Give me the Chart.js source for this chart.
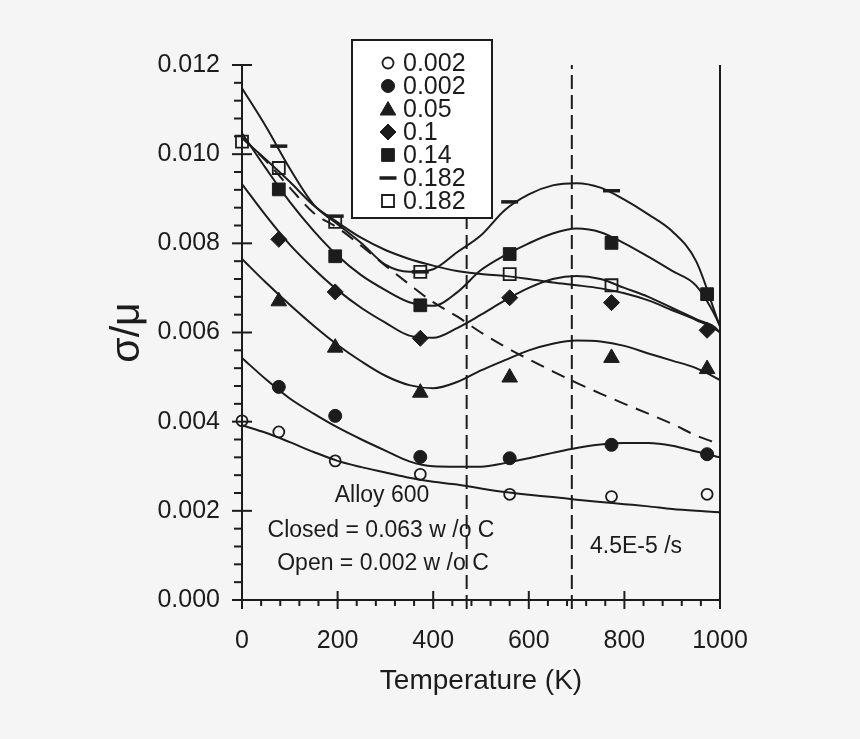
<!DOCTYPE html>
<html>
<head>
<meta charset="utf-8">
<script src="https://cdn.jsdelivr.net/npm/chart.js@4.4.0/dist/chart.umd.min.js"></script>
<style>
  html, body { margin: 0; padding: 0; background: #f5f5f5; }
  canvas { display: block; }
</style>
</head>
<body>
<canvas id="c" width="860" height="739"></canvas>
<script>
// ---------------- data ----------------
const temps = [0, 77, 195, 373, 560, 773, 973];

const openCircle002  = [0.00402, 0.00377, 0.00312, 0.00282, 0.00237, 0.00232, 0.00237];
const filledCircle002 = [null, 0.00478, 0.00413, 0.00321, 0.00318, 0.00348, 0.00327];
const triangle005    = [null, 0.00670, 0.00566, 0.00465, 0.00499, 0.00543, 0.00518];
const diamond01      = [null, 0.00809, 0.00691, 0.00587, 0.00678, 0.00667, 0.00605];
const square014      = [null, 0.00921, 0.00771, 0.00661, 0.00776, 0.00801, 0.00686];
const dash0182       = [null, 0.01018, 0.00861, 0.00736, 0.00893, 0.00918, null];
const openSquare0182 = [0.01028, 0.00969, 0.00848, 0.00736, 0.00731, 0.00706, null];

const legendLabels = ['0.002', '0.002', '0.05', '0.1', '0.14', '0.182', '0.182'];

// fitted curves, sampled along temperature
const curveT = [0, 50, 100, 150, 200, 250, 300, 350, 400, 450, 500, 550, 600, 650, 700, 750, 800, 850, 900, 950, 1000, 1020];
const fitOpen002    = [0.00392, 0.00375, 0.00354, 0.00332, 0.00312, 0.00298, 0.00286, 0.00274, 0.00265, 0.00259, 0.00250, 0.00242, 0.00236, 0.00231, 0.00225, 0.00220, 0.00215, 0.00210, 0.00204, 0.00200, 0.00197, 0.00195];
const fitFilled002  = [0.00543, 0.00495, 0.00452, 0.00418, 0.00387, 0.00360, 0.00335, 0.00311, 0.00300, 0.00299, 0.00299, 0.00307, 0.00318, 0.00330, 0.00341, 0.00349, 0.00352, 0.00352, 0.00346, 0.00333, 0.00320, 0.00314];
const fitTri005     = [0.00765, 0.00712, 0.00662, 0.00615, 0.00572, 0.00535, 0.00503, 0.00482, 0.00475, 0.00489, 0.00515, 0.00538, 0.00560, 0.00575, 0.00582, 0.00580, 0.00570, 0.00553, 0.00537, 0.00520, 0.00493, 0.00478];
const fitDiamond01  = [0.00933, 0.00862, 0.00797, 0.00743, 0.00695, 0.00655, 0.00622, 0.00593, 0.00588, 0.00610, 0.00640, 0.00672, 0.00700, 0.00720, 0.00727, 0.00720, 0.00700, 0.00680, 0.00655, 0.00630, 0.00600, 0.00556];
const fitSquare014  = [0.01047, 0.00968, 0.00893, 0.00828, 0.00772, 0.00728, 0.00695, 0.00668, 0.00660, 0.00690, 0.00740, 0.00773, 0.00800, 0.00822, 0.00833, 0.00825, 0.00800, 0.00770, 0.00738, 0.00705, 0.00615, 0.00560];
const fitDash0182   = [0.01148, 0.01062, 0.00968, 0.00887, 0.00843, 0.00800, 0.00752, 0.00736, 0.00742, 0.00780, 0.00818, 0.00875, 0.00910, 0.00930, 0.00935, 0.00925, 0.00898, 0.00865, 0.00827, 0.00760, 0.00613, 0.00561];
const fitOpenSq0182 = [0.01036, 0.00988, 0.00938, 0.00885, 0.00847, 0.00812, 0.00785, 0.00765, 0.00750, 0.00738, 0.00731, 0.00727, 0.00720, 0.00712, 0.00706, 0.00699, 0.00688, 0.00672, 0.00650, 0.00628, 0.00600, 0.00576];
const fitDashed     = [0.01038, 0.00985, 0.00925, 0.00868, 0.00835, 0.00794, 0.00750, 0.00708, 0.00668, 0.00636, 0.00600, 0.00568, 0.00540, 0.00513, 0.00487, 0.00463, 0.00440, 0.00418, 0.00395, 0.00369, 0.00348, 0.00336];

const rateLineT = [470, 690];      // vertical dashed lines (K)
const xTickValues = [0, 200, 400, 600, 800, 1000];
const yTickValues = [0, 0.002, 0.004, 0.006, 0.008, 0.010, 0.012];

// ---------------- styling ----------------
const INK = '#1c1c1c';
const FONT = '"Liberation Sans", Arial, Helvetica, sans-serif';

const pts = arr => temps.map((t, i) => ({ x: t, y: arr[i] })).filter(p => p.y !== null);
const crv = arr => curveT.map((t, i) => ({ x: t, y: arr[i] }));

const markerSpecs = [
  { data: openCircle002,  style: 'circle',  r: 5.5, fill: 'rgba(0,0,0,0)', bw: 1.8 },
  { data: filledCircle002, style: 'circle', r: 6.5, fill: INK, bw: 1 },
  { data: triangle005,    style: 'triangle', r: 9, fill: INK, bw: 1 },
  { data: diamond01,      style: 'rectRot', r: 8, fill: INK, bw: 1 },
  { data: square014,      style: 'rect',    r: 9, fill: INK, bw: 1 },
  { data: dash0182,       style: 'line',    r: 8.5, fill: INK, bw: 3.5 },
  { data: openSquare0182, style: 'rect',    r: 8.5, fill: 'rgba(0,0,0,0)', bw: 1.8 }
];

const datasets = [];
markerSpecs.forEach((m, i) => {
  datasets.push({
    type: 'scatter', label: legendLabels[i], data: pts(m.data), showLine: false,
    pointStyle: m.style, pointRadius: m.r, pointBackgroundColor: m.fill,
    pointBorderColor: INK, pointBorderWidth: m.bw, clip: false
  });
});

[fitOpen002, fitFilled002, fitTri005, fitDiamond01, fitSquare014, fitDash0182, fitOpenSq0182].forEach(c => {
  datasets.push({
    type: 'line', label: '', data: crv(c), borderColor: INK, borderWidth: 2,
    pointRadius: 0, cubicInterpolationMode: 'monotone', clip: false, fill: false
  });
});
datasets.push({
  type: 'line', label: '', data: crv(fitDashed), borderColor: INK, borderWidth: 2,
  borderDash: [14, 9], pointRadius: 0, cubicInterpolationMode: 'monotone', clip: false, fill: false
});
rateLineT.forEach(t => {
  datasets.push({
    type: 'line', label: '', data: [{ x: t, y: -0.0002 }, { x: t, y: 0.012 }],
    borderColor: INK, borderWidth: 2, borderDash: [14, 6], pointRadius: 0, clip: false
  });
});
datasets.push({
  type: 'line', label: '', data: [{ x: 1000, y: 0 }, { x: 1000, y: 0.012 }],
  borderColor: INK, borderWidth: 2, pointRadius: 0, clip: false
});

// ---------------- plugins ----------------
const bgPlugin = {
  id: 'bg',
  beforeDraw(chart) {
    const ctx = chart.ctx;
    ctx.save();
    ctx.fillStyle = '#f5f5f5';
    ctx.fillRect(0, 0, chart.width, chart.height);
    ctx.restore();
  }
};

const tickPlugin = {
  id: 'minorTicks',
  afterDraw(chart) {
    const { ctx, scales: { x, y } } = chart;
    const y0 = y.getPixelForValue(0);
    const x0 = x.getPixelForValue(0);
    ctx.save();
    ctx.strokeStyle = INK;
    ctx.lineWidth = 2;
    for (let i = 0; i <= 25; i++) {
      const v = i * 40;
      const px = x.getPixelForValue(v);
      const major = i % 5 === 0;
      ctx.beginPath();
      ctx.moveTo(px, major ? y0 - 9 : y0);
      ctx.lineTo(px, y0 + (major ? 9 : 6));
      ctx.stroke();
    }
    for (let i = 0; i <= 30; i++) {
      const v = i * 0.0004;
      const py = y.getPixelForValue(v);
      const major = i % 5 === 0;
      ctx.beginPath();
      ctx.moveTo(x0 - (major ? 10 : 8), py);
      ctx.lineTo(major ? x0 + 10 : x0, py);
      ctx.stroke();
    }
    ctx.restore();
  }
};

function drawMarker(ctx, style, cx, cy, r, fill, bw) {
  ctx.save();
  ctx.fillStyle = fill;
  ctx.strokeStyle = INK;
  ctx.lineWidth = bw;
  ctx.beginPath();
  if (style === 'circle') {
    ctx.arc(cx, cy, r, 0, Math.PI * 2);
  } else if (style === 'triangle') {
    for (let k = 0; k < 3; k++) {
      const a = k * 2 * Math.PI / 3;
      const px = cx + Math.sin(a) * r, py = cy - Math.cos(a) * r;
      k ? ctx.lineTo(px, py) : ctx.moveTo(px, py);
    }
    ctx.closePath();
  } else if (style === 'rectRot') {
    ctx.moveTo(cx, cy - r); ctx.lineTo(cx + r, cy); ctx.lineTo(cx, cy + r); ctx.lineTo(cx - r, cy); ctx.closePath();
  } else if (style === 'rect') {
    const s = r * Math.SQRT1_2;
    ctx.rect(cx - s, cy - s, 2 * s, 2 * s);
  } else if (style === 'line') {
    ctx.moveTo(cx - r, cy); ctx.lineTo(cx + r, cy);
  }
  if (style !== 'line') ctx.fill();
  ctx.stroke();
  ctx.restore();
}

const legendPlugin = {
  id: 'boxLegend',
  afterDraw(chart) {
    const ctx = chart.ctx;
    ctx.save();
    ctx.fillStyle = '#ffffff';
    ctx.fillRect(352, 40, 140, 178);
    ctx.strokeStyle = INK;
    ctx.lineWidth = 2;
    ctx.strokeRect(352, 40, 140, 178);
    ctx.font = '25px ' + FONT;
    ctx.textBaseline = 'middle';
    ctx.textAlign = 'left';
    markerSpecs.forEach((m, i) => {
      const cy = 63 + i * 23;
      drawMarker(ctx, m.style, 388, cy + (m.style === 'triangle' ? 1.5 : 0), m.r, m.fill, m.bw);
      ctx.fillStyle = INK;
      ctx.fillText(legendLabels[i], 403, cy + 1);
    });
    ctx.restore();
  }
};

const notePlugin = {
  id: 'notes',
  afterDraw(chart) {
    const ctx = chart.ctx;
    ctx.save();
    ctx.fillStyle = INK;
    ctx.font = '23px ' + FONT;
    ctx.textBaseline = 'alphabetic';
    ctx.textAlign = 'center';
    ctx.fillText('Alloy 600', 382, 502);
    ctx.fillText('Closed = 0.063 w /o C', 381, 537);
    ctx.fillText('Open = 0.002 w /o C', 383, 570);
    ctx.textAlign = 'left';
    ctx.fillText('4.5E-5 /s', 590, 553);
    ctx.restore();
  }
};

// ---------------- chart ----------------
new Chart(document.getElementById('c'), {
  type: 'scatter',
  data: { datasets },
  options: {
    responsive: false,
    animation: false,
    devicePixelRatio: 1,
    events: [],
    layout: { padding: { top: 65, right: 140, left: 0, bottom: 0 } },
    plugins: { legend: { display: false }, tooltip: { enabled: false } },
    scales: {
      x: {
        type: 'linear', min: 0, max: 1000,
        afterBuildTicks: s => { s.ticks = xTickValues.map(v => ({ value: v })); },
        afterFit: s => { s.height = 139; },
        grid: { display: false, drawTicks: false },
        border: { display: true, color: INK, width: 2 },
        ticks: { color: INK, font: { family: FONT, size: 25 }, padding: 26, maxRotation: 0, autoSkip: false, callback: v => String(v) },
        title: { display: true, text: 'Temperature (K)', color: INK, font: { family: FONT, size: 28 }, padding: { top: 0, bottom: 41 } }
      },
      y: {
        type: 'linear', min: 0, max: 0.012,
        afterBuildTicks: s => { s.ticks = yTickValues.map(v => ({ value: v })); },
        afterFit: s => { s.width = 242; },
        grid: { display: false, drawTicks: false },
        border: { display: true, color: INK, width: 2 },
        ticks: { color: INK, font: { family: FONT, size: 25 }, padding: 22, autoSkip: false, callback: v => Number(v).toFixed(3) },
        title: { display: true, text: 'σ/μ', color: INK, font: { family: FONT, size: 41 }, padding: { top: 103, bottom: 0 } }
      }
    }
  },
  plugins: [bgPlugin, tickPlugin, legendPlugin, notePlugin]
});
</script>
</body>
</html>
